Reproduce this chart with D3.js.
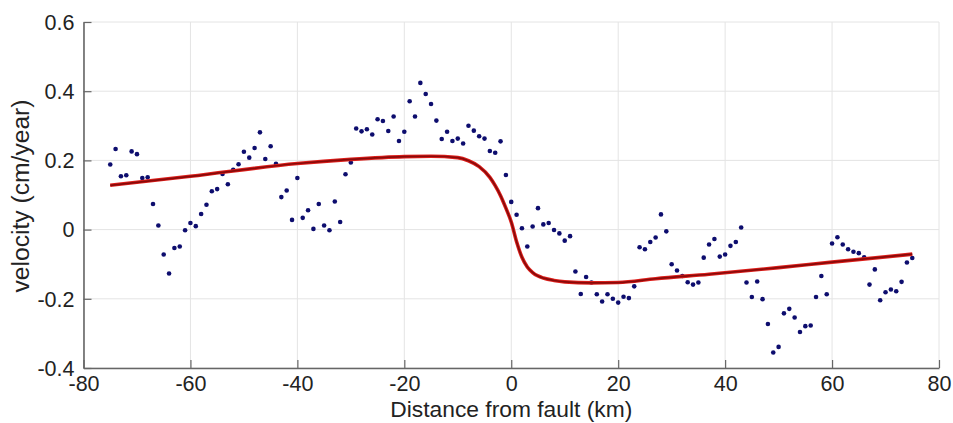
<!DOCTYPE html>
<html>
<head>
<meta charset="utf-8">
<script src="https://cdn.jsdelivr.net/npm/d3@7"></script>
<style>
  body { margin: 0; background: #fff; }
  svg { display: block; font-family: "Liberation Sans", Arial, Helvetica, sans-serif; }
</style>
</head>
<body>
<svg id="chart" width="953" height="423"></svg>
<script>
// distance from fault (km) and measured velocity (cm/year)
const distance = [
  -75, -74, -73, -72, -71, -70, -69, -68, -67, -66, -65, -64, -63, -62, -61, -60,
  -59, -58, -57, -56, -55, -54, -53, -52, -51, -50, -49, -48, -47, -46, -45, -44,
  -43, -42, -41, -40, -39, -38, -37, -36, -35, -34, -33, -32, -31, -30, -29, -28,
  -27, -26, -25, -24, -23, -22, -21, -20, -19, -18, -17, -16, -15, -14, -13, -12,
  -11, -10, -9, -8, -7, -6, -5, -4, -3, -2, -1, 0, 1, 2, 3, 4, 5, 6, 7, 8, 9, 10,
  11, 12, 13, 14, 15, 16, 17, 18, 19, 20, 21, 22, 23, 24, 25, 26, 27, 28, 29, 30,
  31, 32, 33, 34, 35, 36, 37, 38, 39, 40, 41, 42, 43, 44, 45, 46, 47, 48, 49, 50,
  51, 52, 53, 54, 55, 56, 57, 58, 59, 60, 61, 62, 63, 64, 65, 66, 67, 68, 69, 70,
  71, 72, 73, 74, 75
];
const velocity = [
  0.188, 0.233, 0.154, 0.157, 0.226, 0.218, 0.149, 0.151, 0.074, 0.012, -0.072, -0.127,
  -0.053, -0.049, -0.002, 0.019, 0.010, 0.045, 0.072, 0.111, 0.117, 0.161, 0.131, 0.173,
  0.189, 0.225, 0.208, 0.236, 0.281, 0.204, 0.241, 0.190, 0.094, 0.113, 0.028, 0.149,
  0.034, 0.056,
  0.002, 0.074, 0.012, -0.002, 0.081, 0.022, 0.160, 0.194, 0.292, 0.284, 0.290, 0.275,
  0.319, 0.314, 0.285, 0.327, 0.256, 0.283, 0.371, 0.327, 0.424, 0.392, 0.363, 0.315,
  0.262, 0.283, 0.256, 0.263, 0.249, 0.300, 0.286, 0.270, 0.263, 0.227, 0.222, 0.255,
  0.158, 0.080,
  0.043, 0.004, -0.049, 0.009, 0.062, 0.015, 0.019, -0.001, -0.011, -0.032, -0.019, -0.121,
  -0.186, -0.137, -0.153, -0.187, -0.208, -0.187, -0.200, -0.211, -0.194, -0.198, -0.164,
  -0.051, -0.057, -0.036, -0.023, 0.044, -0.005, -0.100, -0.118, -0.134, -0.152, -0.159,
  -0.153, -0.081, -0.043,
  -0.027, -0.078, -0.072, -0.047, -0.036, 0.006, -0.153, -0.195, -0.150, -0.201, -0.273,
  -0.355, -0.339, -0.242, -0.229, -0.254, -0.296, -0.279, -0.277, -0.195, -0.134, -0.187,
  -0.040, -0.022, -0.043, -0.057, -0.064, -0.068, -0.080, -0.159, -0.115, -0.204, -0.181,
  -0.173, -0.178, -0.151, -0.095, -0.082
];

// model curve
const fitDistance = [-75, -60, -40, -30, -20, -15, -10, -8, -6, -4, -3, -2, -1, 0,
  1, 2, 3, 4, 5, 6, 8, 10, 15, 20, 27, 37, 50, 60, 75];
const fitVelocity = [0.128, 0.154, 0.191, 0.203, 0.211, 0.212, 0.208, 0.199, 0.182, 0.151,
  0.127, 0.098, 0.062, 0.022, -0.035, -0.080, -0.108, -0.124, -0.134, -0.140, -0.147,
  -0.151, -0.154, -0.153, -0.142, -0.129, -0.110, -0.094, -0.071];

const xTicks = [-80, -60, -40, -20, 0, 20, 40, 60, 80];
const xTickLabels = ['-80', '-60', '-40', '-20', '0', '20', '40', '60', '80'];
const yTicks = [-0.4, -0.2, 0, 0.2, 0.4, 0.6];
const yTickLabels = ['-0.4', '-0.2', '0', '0.2', '0.4', '0.6'];

const svg = d3.select('#chart');
const margin = { left: 83.5, right: 14, top: 22, bottom: 55 };
const width = 953, height = 423;

const x = d3.scaleLinear().domain([-80, 80]).range([margin.left, width - margin.right]);
const y = d3.scaleLinear().domain([-0.4, 0.6]).range([height - margin.bottom, margin.top]);

// grid
const grid = svg.append('g').attr('stroke', '#e4e4e4').attr('stroke-width', 1);
grid.selectAll('.gx').data(xTicks).enter().append('line')
  .attr('x1', d => x(d)).attr('x2', d => x(d))
  .attr('y1', y(-0.4)).attr('y2', y(0.6));
grid.selectAll('.gy').data(yTicks).enter().append('line')
  .attr('x1', x(-80)).attr('x2', x(80))
  .attr('y1', d => y(d)).attr('y2', d => y(d));

// axes (ticks pointing inward)
const xAxis = svg.append('g')
  .attr('transform', `translate(0,${y(-0.4)})`)
  .call(d3.axisBottom(x).tickValues(xTicks).tickSizeInner(-8).tickSizeOuter(0).tickPadding(16)
    .tickFormat((d, i) => xTickLabels[i]));
const yAxis = svg.append('g')
  .attr('transform', `translate(${x(-80)},0)`)
  .call(d3.axisLeft(y).tickValues(yTicks).tickSizeInner(-8).tickSizeOuter(0).tickPadding(9)
    .tickFormat((d, i) => yTickLabels[i]));

[xAxis, yAxis].forEach(g => {
  g.select('.domain').attr('stroke', '#666').attr('stroke-width', 1.6);
  g.selectAll('.tick line').attr('stroke', '#666').attr('stroke-width', 1.2);
  g.selectAll('.tick text').attr('fill', '#222').attr('font-size', 21.5)
    .attr('font-family', '"Liberation Sans", Arial, sans-serif');
});
xAxis.selectAll('.tick text').attr('dy', '0.33em');
yAxis.selectAll('.tick text').attr('dy', '0.34em');

// data points
svg.append('g').selectAll('circle')
  .data(distance.map((d, i) => [d, velocity[i]]))
  .enter().append('circle')
  .attr('cx', d => x(d[0]))
  .attr('cy', d => y(d[1]))
  .attr('r', 2.3)
  .attr('fill', '#0d0d6e');

// model line
const line = d3.line().x(d => x(d[0])).y(d => y(d[1])).curve(d3.curveMonotoneX);
const fit = fitDistance.map((d, i) => [d, fitVelocity[i]]);
svg.append('path').datum(fit).attr('d', line)
  .attr('fill', 'none').attr('stroke', '#dd1e1a').attr('stroke-width', 3.6);
svg.append('path').datum(fit).attr('d', line)
  .attr('fill', 'none').attr('stroke', '#880a0a').attr('stroke-width', 1.7);

// titles
svg.append('text')
  .attr('x', x(0)).attr('y', 416.5)
  .attr('text-anchor', 'middle').attr('font-size', 22).attr('fill', '#222')
  .attr('textLength', 242).attr('lengthAdjust', 'spacingAndGlyphs')
  .text('Distance from fault (km)');
svg.append('text')
  .attr('transform', `translate(29,${y(0.1) + 1}) rotate(-90)`)
  .attr('text-anchor', 'middle').attr('font-size', 23).attr('fill', '#222')
  .attr('textLength', 193).attr('lengthAdjust', 'spacingAndGlyphs')
  .text('velocity (cm/year)');
</script>
</body>
</html>
